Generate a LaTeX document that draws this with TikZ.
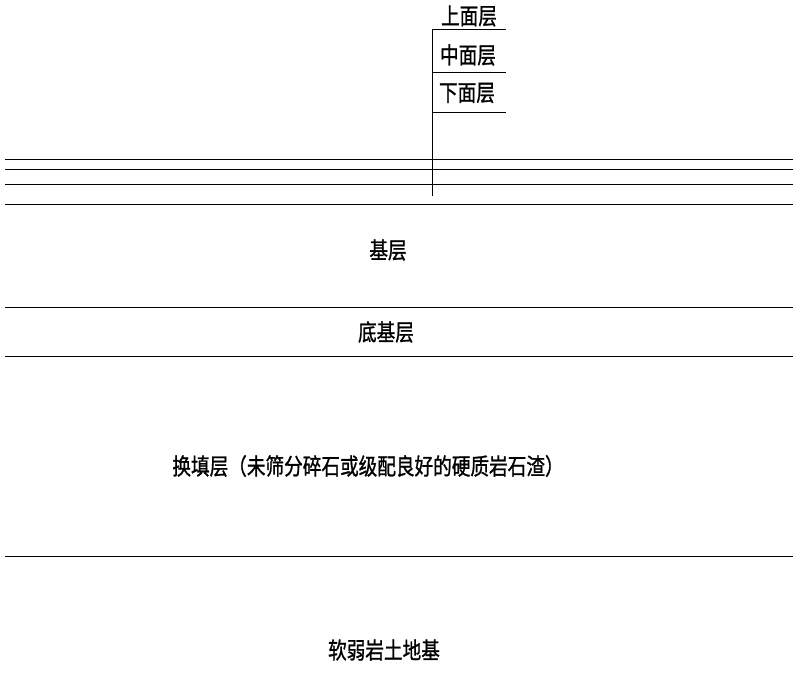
\documentclass[tikz,border=0pt]{standalone}
\usepackage{fontspec}
\newfontfamily\cjk[FakeBold=1.2]{Noto Sans CJK SC}
\begin{document}
\begin{tikzpicture}[x=1pt,y=-1pt,line width=0.9pt,
  lbl/.style={font=\cjk\fontsize{23}{23}\selectfont,inner sep=0pt},
  layer/.style={line width=0.9pt}]
\useasboundingbox (0,0) rectangle (801,677);
% horizontal layer lines
\foreach \y/\n in {159/a,169/b,184/c,204/d,307/e,356/f,556/g}{
  \coordinate (L\n) at (5,\y);
  \coordinate (R\n) at (793,\y);
  \draw[layer] (L\n) -- (R\n);
}
% leader
\coordinate (vtop) at (432,29);
\coordinate (vbot) at (432,196);
\draw[layer] (vtop) -- (vbot);
\coordinate (h1) at (506,29);
\coordinate (h2a) at (432,72);
\coordinate (h2) at (506,72);
\coordinate (h3a) at (432,112);
\coordinate (h3) at (506,112);
\draw[layer] (vtop) -- (h1);
\draw[layer] (h2a) -- (h2);
\draw[layer] (h3a) -- (h3);
% labels
\node[lbl] (t1) at (469,16) {\scalebox{0.81}[1]{上面层}};
\node[lbl] (t2) at (468,55) {\scalebox{0.81}[1]{中面层}};
\node[lbl] (t3) at (467,93) {\scalebox{0.81}[1]{下面层}};
\node[lbl] (t4) at (388,250) {\scalebox{0.81}[1]{基层}};
\node[lbl] (t5) at (386,332) {\scalebox{0.81}[1]{底基层}};
\node[lbl] (t6) at (368,466) {\scalebox{0.81}[1]{换填层（未筛分碎石或级配良好的硬质岩石渣）}};
\node[lbl] (t7) at (384,650) {\scalebox{0.81}[1]{软弱岩土地基}};
\end{tikzpicture}
\end{document}
